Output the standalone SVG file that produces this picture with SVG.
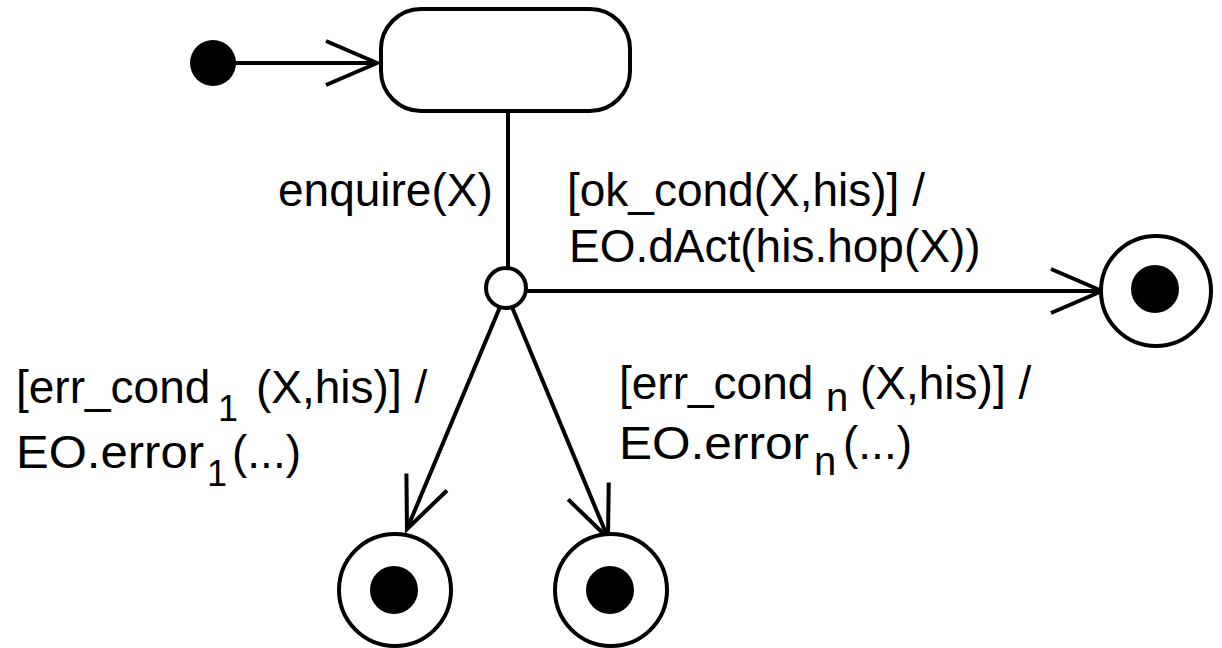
<svg xmlns="http://www.w3.org/2000/svg" width="1222" height="648" viewBox="0 0 1222 648">
<style>
.ln{stroke:#000;stroke-width:4;fill:none}
.st{stroke:#000;stroke-width:4;fill:#fff}
.dot{fill:#000}
text{font-family:"Liberation Sans",Arial,sans-serif;font-size:46px;fill:#000}
.sub{font-size:36px}
.subn{font-size:40px}
</style>
<defs>
<marker id="open" markerUnits="userSpaceOnUse" markerWidth="60" markerHeight="60" viewBox="-55 -30 60 60" refX="0" refY="0" orient="auto">
<path d="M-51,-22 L0,0 L-51,22" fill="none" stroke="#000" stroke-width="4"/>
</marker>
</defs>
<g id="connectors">
<line class="ln" x1="213" y1="63" x2="377" y2="63" marker-end="url(#open)"/>
<line class="ln" x1="508" y1="111" x2="508" y2="268"/>
<line class="ln" x1="526" y1="291" x2="1102" y2="291" marker-end="url(#open)"/>
<line class="ln" x1="500" y1="307" x2="407" y2="529" marker-end="url(#open)"/>
<line class="ln" x1="512" y1="307" x2="608" y2="538" marker-end="url(#open)"/>
</g>
<g id="initial"><circle class="dot" cx="213" cy="63" r="23"/></g>
<g id="state"><rect class="st" x="381" y="9" width="249" height="102" rx="40" ry="40"/></g>
<g id="choice"><circle class="st" cx="506" cy="288" r="20"/></g>
<g id="final-ok"><circle class="st" cx="1156" cy="291" r="55"/><circle class="dot" cx="1155" cy="289" r="24"/></g>
<g id="final-err1"><circle class="st" cx="395" cy="590" r="56"/><circle class="dot" cx="394" cy="590" r="24"/></g>
<g id="final-errn"><circle class="st" cx="611" cy="590" r="56"/><circle class="dot" cx="610" cy="590" r="24"/></g>
<g id="labels">
<text x="278" y="206">enquire(X)</text>
<text x="567" y="206">[ok_cond(X,his)] /</text>
<text x="569" y="262">EO.dAct(his.hop(X))</text>
<text><tspan x="16" y="403">[err_cond</tspan><tspan class="sub" x="218" y="421">1</tspan><tspan x="256" y="403">(X,his)] /</tspan></text>
<text><tspan x="16" y="468" textLength="188" lengthAdjust="spacingAndGlyphs">EO.error</tspan><tspan class="sub" x="207" y="486">1</tspan><tspan x="232" y="468">(...)</tspan></text>
<text><tspan x="619" y="399">[err_cond</tspan><tspan class="subn" x="826" y="411">n</tspan><tspan x="860" y="399">(X,his)] /</tspan></text>
<text><tspan x="619" y="459" textLength="190" lengthAdjust="spacingAndGlyphs">EO.error</tspan><tspan class="subn" x="814" y="475">n</tspan><tspan x="843" y="459">(...)</tspan></text>
</g>
</svg>
